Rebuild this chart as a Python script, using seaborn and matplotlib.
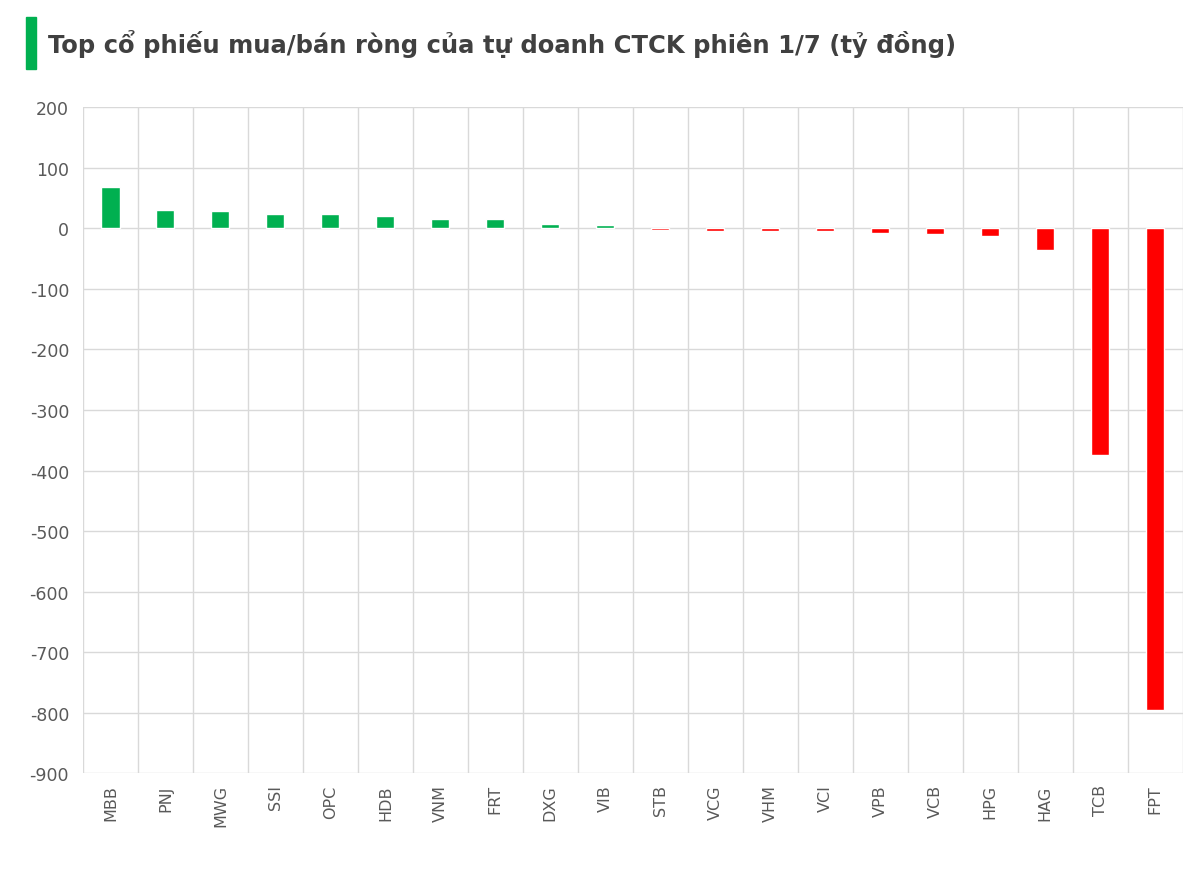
import matplotlib
matplotlib.use('agg')
import matplotlib.pyplot as plt
import numpy as np
import pandas as pd
import seaborn as sns
from matplotlib.patches import Rectangle

tickers = ['MBB', 'PNJ', 'MWG', 'SSI', 'OPC', 'HDB', 'VNM', 'FRT', 'DXG', 'VIB',
           'STB', 'VCG', 'VHM', 'VCI', 'VPB', 'VCB', 'HPG', 'HAG', 'TCB', 'FPT']
values = [68, 30, 28, 23, 23, 20, 15, 15, 8, 6,
          -2, -4, -4, -5, -7, -9, -13, -36, -375, -796]
y_ticks = list(range(-900, 201, 100))

df = pd.DataFrame({'ticker': tickers, 'value': values})
colors = ['#00B050' if v >= 0 else '#FF0000' for v in values]

sns.set_style('white')
plt.rcParams['axes.unicode_minus'] = False
fig = plt.figure(figsize=(12.02, 8.95), dpi=100)
ax = fig.add_axes([0.069, 0.135, 0.915, 0.744])
sns.barplot(data=df, x='ticker', y='value', hue='ticker', palette=colors,
            legend=False, width=0.33, saturation=1, ax=ax)

ax.set_ylim(-900, 200)
ax.set_yticks(y_ticks)
ax.set_xlim(-0.5, len(tickers) - 0.5)
for y in y_ticks:
    ax.axhline(y, color='#D9D9D9', lw=1, zorder=0)
for i in range(len(tickers) + 1):
    ax.axvline(i - 0.5, color='#D9D9D9', lw=1, zorder=0)
for s in ax.spines.values():
    s.set_visible(False)
ax.set_xlabel('')
ax.set_ylabel('')
ax.tick_params(axis='y', labelsize=12.5, colors='#595959', length=0, pad=10)
ax.tick_params(axis='x', labelsize=11.5, colors='#595959', length=0, rotation=90, pad=8)

fig.patches.append(Rectangle((0.022, 0.922), 0.008, 0.058, transform=fig.transFigure,
                             color='#00B050'))
fig.text(0.04, 0.951, 'Top cổ phiếu mua/bán ròng của tự doanh CTCK phiên 1/7 (tỷ đồng)',
         fontsize=17.5, fontweight='bold', color='#404040', va='center')

fig.savefig('out.png', dpi=100)
